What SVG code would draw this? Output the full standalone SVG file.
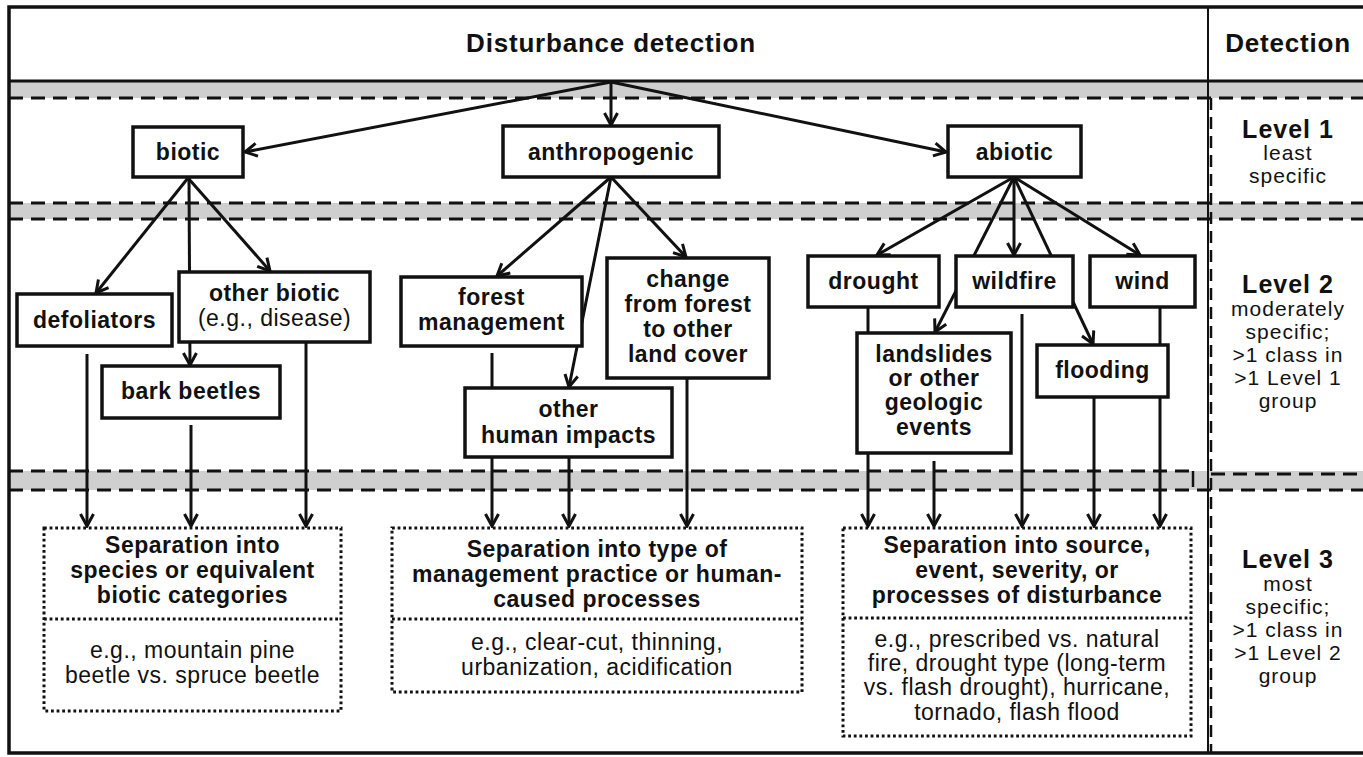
<svg xmlns="http://www.w3.org/2000/svg" width="1363" height="757" viewBox="0 0 1363 757">
<style>
.box{fill:#fff;stroke:#111;stroke-width:3.5}
.dbox{fill:#fff;stroke:#111;stroke-width:3;stroke-dasharray:2.8 2.8}
.dot{fill:none;stroke:#111;stroke-width:3;stroke-dasharray:2.8 2.8}
.band{fill:#cfcfcf;stroke:none}
.dash{fill:none;stroke:#111;stroke-width:3;stroke-dasharray:14 8}
.b{font-family:"Liberation Sans",Arial,sans-serif;font-weight:bold;font-size:23px;letter-spacing:0.5px;text-anchor:middle;fill:#111}
.r{font-family:"Liberation Sans",Arial,sans-serif;font-size:23px;letter-spacing:0.5px;text-anchor:middle;fill:#111}
.h{font-family:"Liberation Sans",Arial,sans-serif;font-weight:bold;font-size:26px;letter-spacing:0.8px;text-anchor:middle;fill:#111}
.lv{font-family:"Liberation Sans",Arial,sans-serif;font-weight:bold;font-size:25px;letter-spacing:1px;text-anchor:middle;fill:#111}
.rc{font-family:"Liberation Sans",Arial,sans-serif;font-size:21px;letter-spacing:1px;text-anchor:middle;fill:#111}
</style>
<defs>
<marker id="ah" markerUnits="userSpaceOnUse" markerWidth="18" markerHeight="18" refX="14" refY="8" orient="auto">
<path d="M2,1.5 L14,8 L2,14.5" fill="none" stroke="#111" stroke-width="3"/>
</marker>
</defs>
<rect width="1363" height="757" fill="#fff"/>
<g id="frame">
<rect class="band" x="9" y="82" width="1354" height="16"/>
<rect class="band" x="9" y="203" width="1354" height="16"/>
<rect class="band" x="9" y="471" width="1354" height="19"/>
<line class="dash" x1="9" y1="98" x2="1363" y2="98"/>
<line class="dash" x1="9" y1="203" x2="1363" y2="203"/>
<line class="dash" x1="9" y1="219" x2="1363" y2="219"/>
<line class="dash" x1="9" y1="471" x2="1193" y2="471"/>
<line class="dash" x1="1211" y1="474" x2="1363" y2="474"/>
<path d="M1193,471 V487" fill="none" stroke="#111" stroke-width="2.5"/>
<line class="dash" x1="9" y1="490" x2="1363" y2="490"/>
<line x1="1208" y1="7" x2="1208" y2="753" stroke="#111" stroke-width="2"/>
<line x1="1211" y1="98" x2="1211" y2="753" stroke="#111" stroke-width="2.5" stroke-dasharray="12 7"/>
<line x1="9" y1="81" x2="1363" y2="81" stroke="#111" stroke-width="3"/>
<rect x="9" y="7" width="1370" height="746" fill="none" stroke="#111" stroke-width="3.5"/>
<text class="h" x="611" y="52">Disturbance detection</text>
<text class="h" x="1288" y="52">Detection</text>
</g>
<g id="levels">
<text class="lv" x="1288" y="138">Level 1</text>
<text class="rc" x="1288" y="160">least</text>
<text class="rc" x="1288" y="183">specific</text>
<text class="lv" x="1288" y="293">Level 2</text>
<text class="rc" x="1288" y="316">moderately</text>
<text class="rc" x="1288" y="339">specific;</text>
<text class="rc" x="1288" y="362">&gt;1 class in</text>
<text class="rc" x="1288" y="385">&gt;1 Level 1</text>
<text class="rc" x="1288" y="408">group</text>
<text class="lv" x="1288" y="568">Level 3</text>
<text class="rc" x="1288" y="591">most</text>
<text class="rc" x="1288" y="614">specific;</text>
<text class="rc" x="1288" y="637">&gt;1 class in</text>
<text class="rc" x="1288" y="660">&gt;1 Level 2</text>
<text class="rc" x="1288" y="683">group</text>
</g>
<g id="connectors" fill="none" stroke="#111" stroke-width="3">
<line x1="611" y1="82" x2="245" y2="152" marker-end="url(#ah)"/>
<line x1="611" y1="82" x2="611" y2="125" marker-end="url(#ah)"/>
<line x1="611" y1="82" x2="946" y2="152" marker-end="url(#ah)"/>
<line x1="188" y1="178" x2="96" y2="293" marker-end="url(#ah)"/>
<line x1="189" y1="178" x2="190" y2="365" marker-end="url(#ah)"/>
<line x1="188" y1="178" x2="270" y2="271" marker-end="url(#ah)"/>
<line x1="611" y1="177" x2="497" y2="276" marker-end="url(#ah)"/>
<line x1="611" y1="177" x2="569" y2="387" marker-end="url(#ah)"/>
<line x1="611" y1="177" x2="686" y2="257" marker-end="url(#ah)"/>
<line x1="1014" y1="177" x2="877" y2="255" marker-end="url(#ah)"/>
<line x1="1014" y1="177" x2="1014" y2="255" marker-end="url(#ah)"/>
<line x1="1014" y1="177" x2="935" y2="332" marker-end="url(#ah)"/>
<line x1="1014" y1="177" x2="1093" y2="344" marker-end="url(#ah)"/>
<line x1="1014" y1="177" x2="1140" y2="255" marker-end="url(#ah)"/>
<line x1="87" y1="354" x2="87" y2="526" marker-end="url(#ah)"/>
<line x1="191" y1="425" x2="191" y2="526" marker-end="url(#ah)"/>
<line x1="306" y1="342" x2="306" y2="526" marker-end="url(#ah)"/>
<line x1="492" y1="353" x2="492" y2="526" marker-end="url(#ah)"/>
<line x1="569" y1="457" x2="569" y2="526" marker-end="url(#ah)"/>
<line x1="687" y1="378" x2="687" y2="526" marker-end="url(#ah)"/>
<line x1="868" y1="307" x2="868" y2="526" marker-end="url(#ah)"/>
<line x1="934" y1="461" x2="934" y2="526" marker-end="url(#ah)"/>
<line x1="1022" y1="314" x2="1022" y2="526" marker-end="url(#ah)"/>
<line x1="1094" y1="397" x2="1094" y2="526" marker-end="url(#ah)"/>
<line x1="1160" y1="307" x2="1160" y2="526" marker-end="url(#ah)"/>
</g>
<g id="biotic"><rect class="box" x="133" y="127" width="110" height="50"/><text class="b" x="188" y="160">biotic</text></g>
<g id="anthropogenic"><rect class="box" x="503" y="126" width="216" height="51"/><text class="b" x="611" y="160">anthropogenic</text></g>
<g id="abiotic"><rect class="box" x="948" y="126" width="133" height="51"/><text class="b" x="1014.5" y="160">abiotic</text></g>
<g id="defoliators"><rect class="box" x="17" y="294" width="155" height="52"/><text class="b" x="94.5" y="328">defoliators</text></g>
<g id="other-biotic"><rect class="box" x="179" y="272" width="191" height="70"/><text class="b" x="274.5" y="301">other biotic</text><text class="r" x="274.5" y="326">(e.g., disease)</text></g>
<g id="bark-beetles"><rect class="box" x="102" y="366" width="178" height="52"/><text class="b" x="191" y="399">bark beetles</text></g>
<g id="forest-management"><rect class="box" x="401" y="277" width="181" height="69"/><text class="b" x="491.5" y="305">forest</text><text class="b" x="491.5" y="330">management</text></g>
<g id="change-land-cover"><rect class="box" x="607" y="258" width="162" height="120"/><text class="b" x="688" y="287">change</text><text class="b" x="688" y="312">from forest</text><text class="b" x="688" y="337">to other</text><text class="b" x="688" y="362">land cover</text></g>
<g id="other-human-impacts"><rect class="box" x="465" y="388" width="207" height="69"/><text class="b" x="568.5" y="417">other</text><text class="b" x="568.5" y="443">human impacts</text></g>
<g id="drought"><rect class="box" x="808" y="256" width="131" height="51"/><text class="b" x="873.5" y="289">drought</text></g>
<g id="wildfire"><rect class="box" x="956" y="256" width="117" height="51"/><text class="b" x="1014.5" y="289">wildfire</text></g>
<g id="wind"><rect class="box" x="1090" y="256" width="105" height="51"/><text class="b" x="1142.5" y="289">wind</text></g>
<g id="landslides"><rect class="box" x="857" y="333" width="154" height="120"/><text class="b" x="934" y="362">landslides</text><text class="b" x="934" y="386">or other</text><text class="b" x="934" y="410">geologic</text><text class="b" x="934" y="435">events</text></g>
<g id="flooding"><rect class="box" x="1037" y="345" width="131" height="52"/><text class="b" x="1102.5" y="378">flooding</text></g>
<g id="level3-biotic"><rect class="dbox" x="44" y="528" width="297" height="183"/><line class="dot" x1="44" y1="619" x2="341" y2="619"/>
<text class="b" x="192.5" y="553">Separation into</text><text class="b" x="192.5" y="578">species or equivalent</text><text class="b" x="192.5" y="603">biotic categories</text>
<text class="r" x="192.5" y="658">e.g., mountain pine</text><text class="r" x="192.5" y="683">beetle vs. spruce beetle</text></g>
<g id="level3-anthropogenic"><rect class="dbox" x="392" y="528" width="410" height="164"/><line class="dot" x1="392" y1="619" x2="802" y2="619"/>
<text class="b" x="597" y="557">Separation into type of</text><text class="b" x="597" y="582">management practice or human-</text><text class="b" x="597" y="607">caused processes</text>
<text class="r" x="597" y="650">e.g., clear-cut, thinning,</text><text class="r" x="597" y="675">urbanization, acidification</text></g>
<g id="level3-abiotic"><rect class="dbox" x="843" y="528" width="348" height="208"/><line class="dot" x1="843" y1="618" x2="1191" y2="618"/>
<text class="b" x="1017" y="553">Separation into source,</text><text class="b" x="1017" y="578">event, severity, or</text><text class="b" x="1017" y="603">processes of disturbance</text>
<text class="r" x="1017" y="647">e.g., prescribed vs. natural</text><text class="r" x="1017" y="671">fire, drought type (long-term</text><text class="r" x="1017" y="695">vs. flash drought), hurricane,</text><text class="r" x="1017" y="720">tornado, flash flood</text></g>
</svg>
